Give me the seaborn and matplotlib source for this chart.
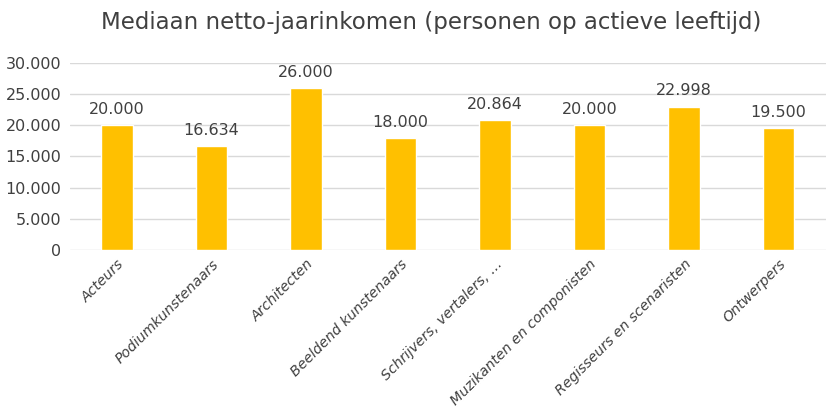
import matplotlib
matplotlib.use("Agg")
import matplotlib.pyplot as plt
import seaborn as sns
import pandas as pd

# data
beroepen = ['Acteurs', 'Podiumkunstenaars', 'Architecten', 'Beeldend kunstenaars',
            'Schrijvers, vertalers, …', 'Muzikanten en componisten',
            'Regisseurs en scenaristen', 'Ontwerpers']
inkomen = [20000, 16634, 26000, 18000, 20864, 20000, 22998, 19500]
y_ticks = [0, 5000, 10000, 15000, 20000, 25000, 30000]


def nl(v):
    # Dutch thousands separator
    return '{:,.0f}'.format(v).replace(',', '.')


df = pd.DataFrame({'beroep': beroepen, 'inkomen': inkomen})

sns.set_theme(style="white")
plt.rcParams['font.family'] = ['DejaVu Sans']
txt = '#404040'

fig = plt.figure(figsize=(8.3, 4.16), dpi=100)
ax = fig.add_axes([0.084, 0.399, 0.911, 0.45])

sns.barplot(data=df, x='beroep', y='inkomen', color='#FFC000', width=0.33,
            saturation=1, ax=ax)

ax.set_ylim(0, 30000)
ax.set_yticks(y_ticks)
ax.set_yticklabels([nl(t) for t in y_ticks], color=txt, fontsize=11.5)
ax.yaxis.grid(True, color='#d9d9d9', linewidth=1)
ax.set_axisbelow(True)
ax.tick_params(axis='both', length=0, pad=6)
for s in ax.spines.values():
    s.set_visible(False)

ax.set_xticks(range(len(beroepen)))
ax.set_xticklabels(beroepen, rotation=45, ha='right', rotation_mode='anchor',
                   color=txt, fontsize=10.2, style='italic')
ax.tick_params(axis='x', pad=5)
ax.set_xlabel('')
ax.set_ylabel('')

for i, v in enumerate(inkomen):
    ax.text(i, v + 1300, nl(v), ha='center', va='bottom', color=txt, fontsize=11.5)

fig.text(0.52, 0.945, 'Mediaan netto-jaarinkomen (personen op actieve leeftijd)',
         ha='center', va='center', color=txt, fontsize=16.5)

fig.savefig('out.png', dpi=100)
